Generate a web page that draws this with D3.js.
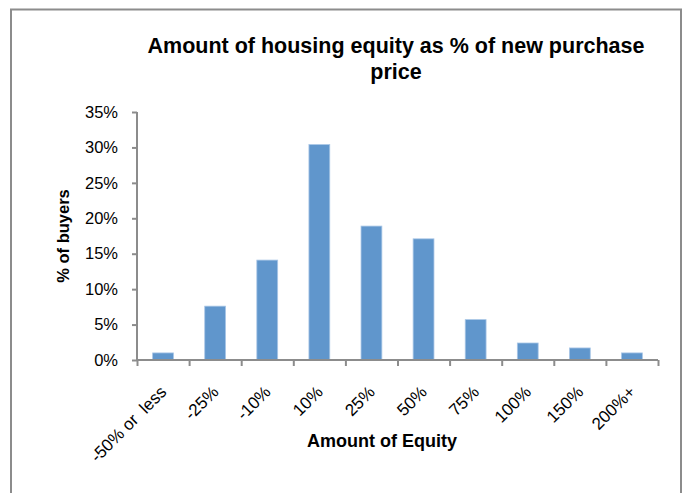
<!DOCTYPE html>
<html><head><meta charset="utf-8">
<script src="https://cdn.jsdelivr.net/npm/d3@7"></script>
<style>
body{margin:0;background:#fff;}
text{font-family:"Liberation Sans",Arial,sans-serif;fill:#000;}
</style></head>
<body><svg id="c" width="684" height="493"></svg>
<script>
const categories = ["-50% or  less","-25%","-10%","10%","25%","50%","75%","100%","150%","200%+"];
const values = [1.0, 7.6, 14.1, 30.4, 18.9, 17.1, 5.7, 2.4, 1.7, 1.0];
const yTicks = [0,5,10,15,20,25,30,35];
const title = ["Amount of housing equity as % of new purchase","price"];
const xTitle = "Amount of Equity";
const yTitle = "% of buyers";

const svg = d3.select("#c");
svg.append("rect").attr("x",11).attr("y",9.5).attr("width",670).attr("height",500)
  .attr("fill","#fff").attr("stroke","#8c8c8c").attr("stroke-width",2);

const pL=137, pR=658, pT=112, pB=360;
const x = d3.scaleBand().domain(categories).range([pL,pR]).paddingInner(0.6).paddingOuter(0.3);
const y = d3.scaleLinear().domain([0,35]).range([pB,pT]);

svg.append("g").selectAll("rect").data(values).join("rect")
  .attr("x",(d,i)=>x(categories[i])).attr("width",x.bandwidth())
  .attr("y",d=>y(d)).attr("height",d=>pB-y(d))
  .attr("fill","#6096cc").attr("stroke","#a9c6e6").attr("stroke-width",0.8);

const yAxis = svg.append("g").attr("transform",`translate(${pL},0)`)
  .call(d3.axisLeft(y).tickValues(yTicks).tickFormat(d=>d+"%").tickSize(5).tickPadding(14));
const xg = d3.scaleLinear().domain([0,10]).range([pL,pR]);
const xAxis = svg.append("g").attr("transform",`translate(0,${pB})`)
  .call(d3.axisBottom(xg).tickValues(d3.range(0,11)).tickFormat("").tickSize(6));
[yAxis,xAxis].forEach(g=>{
  g.selectAll("path,line").attr("stroke","#8c8c8c").attr("stroke-width",2);
  g.select(".domain").attr("d", g===yAxis ? `M0,${pT}V${pB+1}` : `M${pL-1},0H${pR}`);
});
yAxis.selectAll("text").attr("font-size",16.5).attr("fill","#000")
  .style("font-family","'Liberation Sans',Arial,sans-serif");

svg.append("g").selectAll("text").data(categories).join("text")
  .attr("transform",d=>`translate(${x(d)+x.bandwidth()/2+4.5},${pB+33}) rotate(-45)`)
  .attr("text-anchor","end").attr("font-size",17).style("white-space","pre").text(d=>d);

svg.append("g").selectAll("text").data(title).join("text")
  .attr("x",396).attr("y",(d,i)=>53+i*26).attr("text-anchor","middle")
  .attr("font-size",21.5).attr("font-weight","bold").text(d=>d);

svg.append("text").attr("x",382).attr("y",447).attr("text-anchor","middle")
  .attr("font-size",18).attr("font-weight","bold").text(xTitle);
svg.append("text").attr("transform","translate(69,236) rotate(-90)").attr("text-anchor","middle")
  .attr("font-size",16.5).attr("font-weight","bold").text(yTitle);
</script></body></html>
